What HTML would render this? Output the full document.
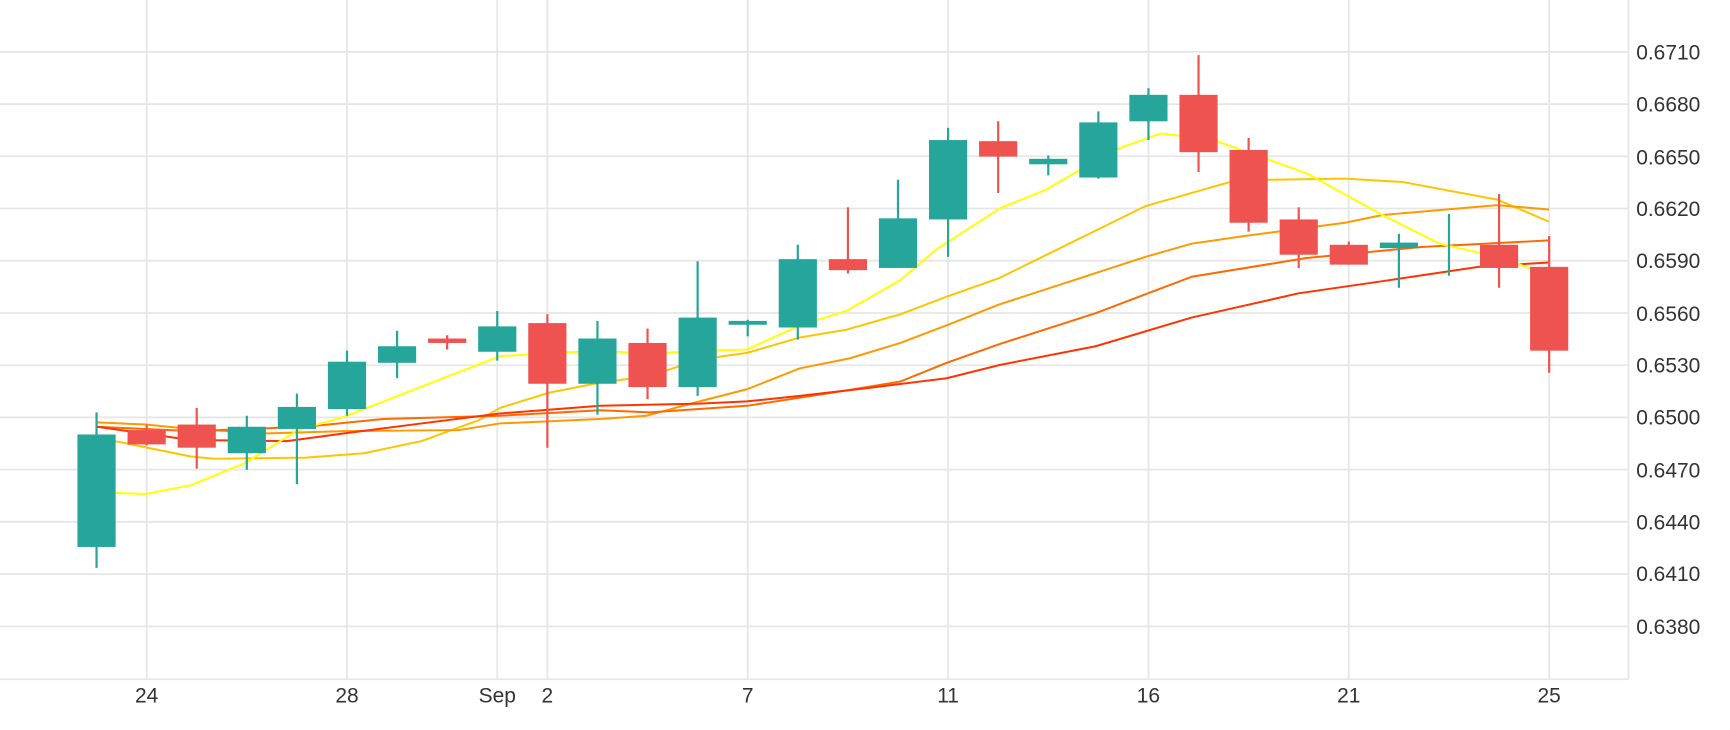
<!DOCTYPE html>
<html><head><meta charset="utf-8"><style>
html,body{margin:0;padding:0;background:#fff;}
svg{display:block;}
text{font-family:"Liberation Sans","DejaVu Sans",sans-serif;font-size:19px;fill:#333;}
</style></head><body>
<svg width="1730" height="730" viewBox="0 0 1568 662" preserveAspectRatio="none" xmlns="http://www.w3.org/2000/svg">
<rect width="1568" height="662" fill="#fff"/>
<g stroke="#e6e6e6" stroke-width="1.6">
<line x1="0" x2="1476" y1="47" y2="47"/><line x1="0" x2="1476" y1="94.4" y2="94.4"/><line x1="0" x2="1476" y1="141.7" y2="141.7"/><line x1="0" x2="1476" y1="189.1" y2="189.1"/><line x1="0" x2="1476" y1="236.4" y2="236.4"/><line x1="0" x2="1476" y1="283.8" y2="283.8"/><line x1="0" x2="1476" y1="331.2" y2="331.2"/><line x1="0" x2="1476" y1="378.5" y2="378.5"/><line x1="0" x2="1476" y1="425.9" y2="425.9"/><line x1="0" x2="1476" y1="473.2" y2="473.2"/><line x1="0" x2="1476" y1="520.6" y2="520.6"/><line x1="0" x2="1476" y1="568" y2="568"/>
<line x1="0" x2="1476" y1="616" y2="616"/>
<line x1="1476" x2="1476" y1="0" y2="616"/>
<line x1="132.9" x2="132.9" y1="0" y2="616"/><line x1="314.5" x2="314.5" y1="0" y2="616"/><line x1="450.7" x2="450.7" y1="0" y2="616"/><line x1="496.1" x2="496.1" y1="0" y2="616"/><line x1="677.7" x2="677.7" y1="0" y2="616"/><line x1="859.3" x2="859.3" y1="0" y2="616"/><line x1="1040.9" x2="1040.9" y1="0" y2="616"/><line x1="1222.5" x2="1222.5" y1="0" y2="616"/><line x1="1404.1" x2="1404.1" y1="0" y2="616"/>
</g>
<g>
<text x="1483" y="54">0.6710</text><text x="1483" y="101">0.6680</text><text x="1483" y="149">0.6650</text><text x="1483" y="196">0.6620</text><text x="1483" y="243">0.6590</text><text x="1483" y="291">0.6560</text><text x="1483" y="338">0.6530</text><text x="1483" y="385">0.6500</text><text x="1483" y="433">0.6470</text><text x="1483" y="480">0.6440</text><text x="1483" y="527">0.6410</text><text x="1483" y="575">0.6380</text>
</g>
<g text-anchor="middle">
<text x="132.9" y="637">24</text><text x="314.5" y="637">28</text><text x="450.7" y="637">Sep</text><text x="496.1" y="637">2</text><text x="677.7" y="637">7</text><text x="859.3" y="637">11</text><text x="1040.9" y="637">16</text><text x="1222.5" y="637">21</text><text x="1404.1" y="637">25</text>
</g>
<g fill="none" stroke-width="1.8" stroke-linejoin="round">
<polyline stroke="#ffc400" points="87,398 104,400 173,414 194,416 277,415 330,411 382,400 434,381 453,370 498,356 544,347 589,341 634,326 677,320 725,306 767,299 816,285 858,269 906,252 1038,187 1115,165 1149,163 1219,162 1271,165 1357,181 1404,201"/>
<polyline stroke="#ff9900" points="88,383 132,385 173,389 243,393 312,391 416,390 453,384 544,380 586,377 634,364 677,353 725,334 770,325 816,311 858,295 906,276 1038,233 1080,221 1128,214 1219,202 1253,195 1357,186 1404,190"/>
<polyline stroke="#ff6a00" points="88,387 173,391 277,387 347,380 453,377 544,372 589,374 677,368 755,356 816,346 858,329 906,312 993,284 1080,251 1184,234 1288,224 1404,218"/>
<polyline stroke="#ff3300" points="88,387 173,399 260,400 312,393 382,384 453,375 544,368 634,366 677,364 725,359 786,352 858,343 906,331 993,314 1080,288 1177,266 1253,255 1340,242 1404,238"/>
<polyline stroke="#ffff00" points="104,447 132,448 173,440 222,420 270,390 312,378 399,344 453,323 544,318 589,321 634,318 677,317 725,295 767,282 816,254 849,226 906,189 948,172 1010,136 1052,121 1100,127 1184,157 1253,195 1305,221 1357,233 1392,245"/>
</g>
<g stroke-width="2">
<g stroke="#26a69a" fill="#26a69a">
<line x1="87.5" x2="87.5" y1="374" y2="515"/><rect x="71.2" y="395" width="32.6" height="100"/>
<line x1="223.7" x2="223.7" y1="377" y2="426"/><rect x="207.4" y="388" width="32.6" height="22"/>
<line x1="269.1" x2="269.1" y1="357" y2="439"/><rect x="252.8" y="370" width="32.6" height="18"/>
<line x1="314.5" x2="314.5" y1="318" y2="377"/><rect x="298.2" y="329" width="32.6" height="41"/>
<line x1="359.9" x2="359.9" y1="300" y2="343"/><rect x="343.6" y="315" width="32.6" height="13"/>
<line x1="450.7" x2="450.7" y1="282" y2="327"/><rect x="434.4" y="297" width="32.6" height="21"/>
<line x1="541.5" x2="541.5" y1="291" y2="376"/><rect x="525.2" y="308" width="32.6" height="39"/>
<line x1="632.3" x2="632.3" y1="237" y2="359"/><rect x="616" y="289" width="32.6" height="61"/>
<line x1="677.7" x2="677.7" y1="290" y2="305"/><rect x="661.4" y="292" width="32.6" height="1.5"/>
<line x1="723.1" x2="723.1" y1="222" y2="308"/><rect x="706.8" y="236" width="32.6" height="60"/>
<line x1="813.9" x2="813.9" y1="163" y2="226"/><rect x="797.6" y="199" width="32.6" height="43"/>
<line x1="859.3" x2="859.3" y1="116" y2="233"/><rect x="843" y="128" width="32.6" height="70"/>
<line x1="950.1" x2="950.1" y1="141" y2="159"/><rect x="933.8" y="145" width="32.6" height="3"/>
<line x1="995.5" x2="995.5" y1="101" y2="162"/><rect x="979.2" y="112" width="32.6" height="48"/>
<line x1="1040.9" x2="1040.9" y1="80" y2="127"/><rect x="1024.6" y="87" width="32.6" height="22"/>
<line x1="1267.9" x2="1267.9" y1="212" y2="261"/><rect x="1251.6" y="221" width="32.6" height="3"/>
<line x1="1313.3" x2="1313.3" y1="194" y2="250"/>
</g>
<g stroke="#ef5350" fill="#ef5350">
<line x1="132.9" x2="132.9" y1="385" y2="404"/><rect x="116.6" y="391" width="32.6" height="11"/>
<line x1="178.3" x2="178.3" y1="370" y2="425"/><rect x="162" y="386" width="32.6" height="19"/>
<line x1="405.3" x2="405.3" y1="304" y2="317"/><rect x="389" y="308" width="32.6" height="2"/>
<line x1="496.1" x2="496.1" y1="285" y2="406"/><rect x="479.8" y="294" width="32.6" height="53"/>
<line x1="586.9" x2="586.9" y1="298" y2="362"/><rect x="570.6" y="312" width="32.6" height="38"/>
<line x1="768.5" x2="768.5" y1="188" y2="248"/><rect x="752.2" y="236" width="32.6" height="8"/>
<line x1="904.7" x2="904.7" y1="110" y2="175"/><rect x="888.4" y="129" width="32.6" height="12"/>
<line x1="1086.3" x2="1086.3" y1="50" y2="156"/><rect x="1070" y="87" width="32.6" height="50"/>
<line x1="1131.7" x2="1131.7" y1="125" y2="210"/><rect x="1115.4" y="137" width="32.6" height="64"/>
<line x1="1177.1" x2="1177.1" y1="188" y2="243"/><rect x="1160.8" y="200" width="32.6" height="30"/>
<line x1="1222.5" x2="1222.5" y1="219" y2="240"/><rect x="1206.2" y="223" width="32.6" height="16"/>
<line x1="1358.7" x2="1358.7" y1="176" y2="261"/><rect x="1342.4" y="223" width="32.6" height="19"/>
<line x1="1404.1" x2="1404.1" y1="214" y2="338"/><rect x="1387.8" y="243" width="32.6" height="74"/>
</g>
</g>
</svg>
</body></html>
